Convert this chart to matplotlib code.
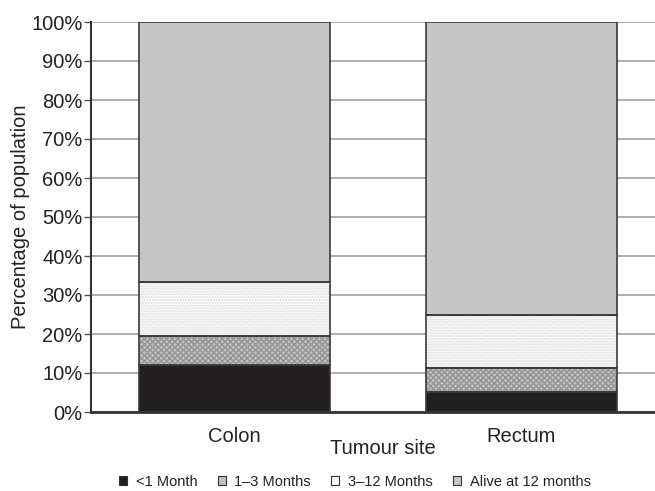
import numpy as np
import matplotlib
matplotlib.use("Agg")
import matplotlib.pyplot as plt
from matplotlib.patches import Patch

plt.rcParams['font.family'] = ['Liberation Sans', 'DejaVu Sans']

# data (percent of population)
sites = ["Colon", "Rectum"]
series = ["<1 Month", "1\u20133 Months", "3\u201312 Months", "Alive at 12 months"]
lt1 = [12.0, 5.2]
m1_3 = [7.6, 6.0]
m3_12 = [13.7, 13.6]
alive = [66.7, 75.2]
yticks = list(range(0, 101, 10))

faces = ['#231f20', '#c0c0c0', '#f8f8f8', '#c6c6c6']
hatch_cols = [None, '#959595', '#dedede', None]
hatches = [None, 'xxxxxx', '......', None]

fig = plt.figure(figsize=(6.55, 4.91), dpi=100)
W, H = 655, 491
ax = fig.add_axes([91 / W, (H - 412) / H, (665 - 91) / W, (412 - 22) / H])

x = np.arange(len(sites))
width = 0.667
bottom = np.zeros(len(sites))
for vals, fc, hc, hp in zip([lt1, m1_3, m3_12, alive], faces, hatch_cols, hatches):
    vals = np.array(vals)
    if hp is None:
        ax.bar(x, vals, width, bottom=bottom, color=fc, linewidth=0, zorder=2)
    else:
        ax.bar(x, vals, width, bottom=bottom, color=fc, edgecolor=hc,
               hatch=hp, linewidth=0, zorder=2)
    ax.bar(x, vals, width, bottom=bottom, fill=False, edgecolor='#3a3a3a',
           linewidth=1.2, zorder=3)
    bottom += vals

ax.set_xlim(-0.5, 1.5)
ax.set_ylim(0, 100)
ax.set_yticks(yticks)
ax.set_yticklabels([f"{t}%" for t in yticks], fontsize=14.5, color='#222222')
ax.set_xticks(x)
ax.set_xticklabels(sites, fontsize=14.5, color='#222222')
ax.tick_params(axis='x', length=0, pad=11)
ax.tick_params(axis='y', length=5, width=1, color='#555555', pad=1)
ax.yaxis.grid(True, color='#a0a0a0', linewidth=1.2, zorder=0)
ax.set_axisbelow(True)

for s in ['top', 'right']:
    ax.spines[s].set_visible(False)
ax.spines['left'].set_color('#333333')
ax.spines['left'].set_linewidth(1.5)
ax.spines['bottom'].set_color('#333333')
ax.spines['bottom'].set_linewidth(2)

ax.set_ylabel("Percentage of population", fontsize=14.5, labelpad=1, color='#222222')
fig.text(383 / W, 1 - 449 / H, "Tumour site", fontsize=14.5, ha='center', va='center',
         color='#222222')

handles = [Patch(facecolor=fc, edgecolor='#333333', linewidth=0.8) for fc in faces]
fig.legend(handles, series, loc='center', bbox_to_anchor=(355 / W, 1 - 482 / H),
           ncol=4, frameon=False, fontsize=10.5, handlelength=0.55, handleheight=0.55,
           handletextpad=0.6, columnspacing=1.4, labelcolor='#222222')

fig.savefig("out.png", dpi=100)
